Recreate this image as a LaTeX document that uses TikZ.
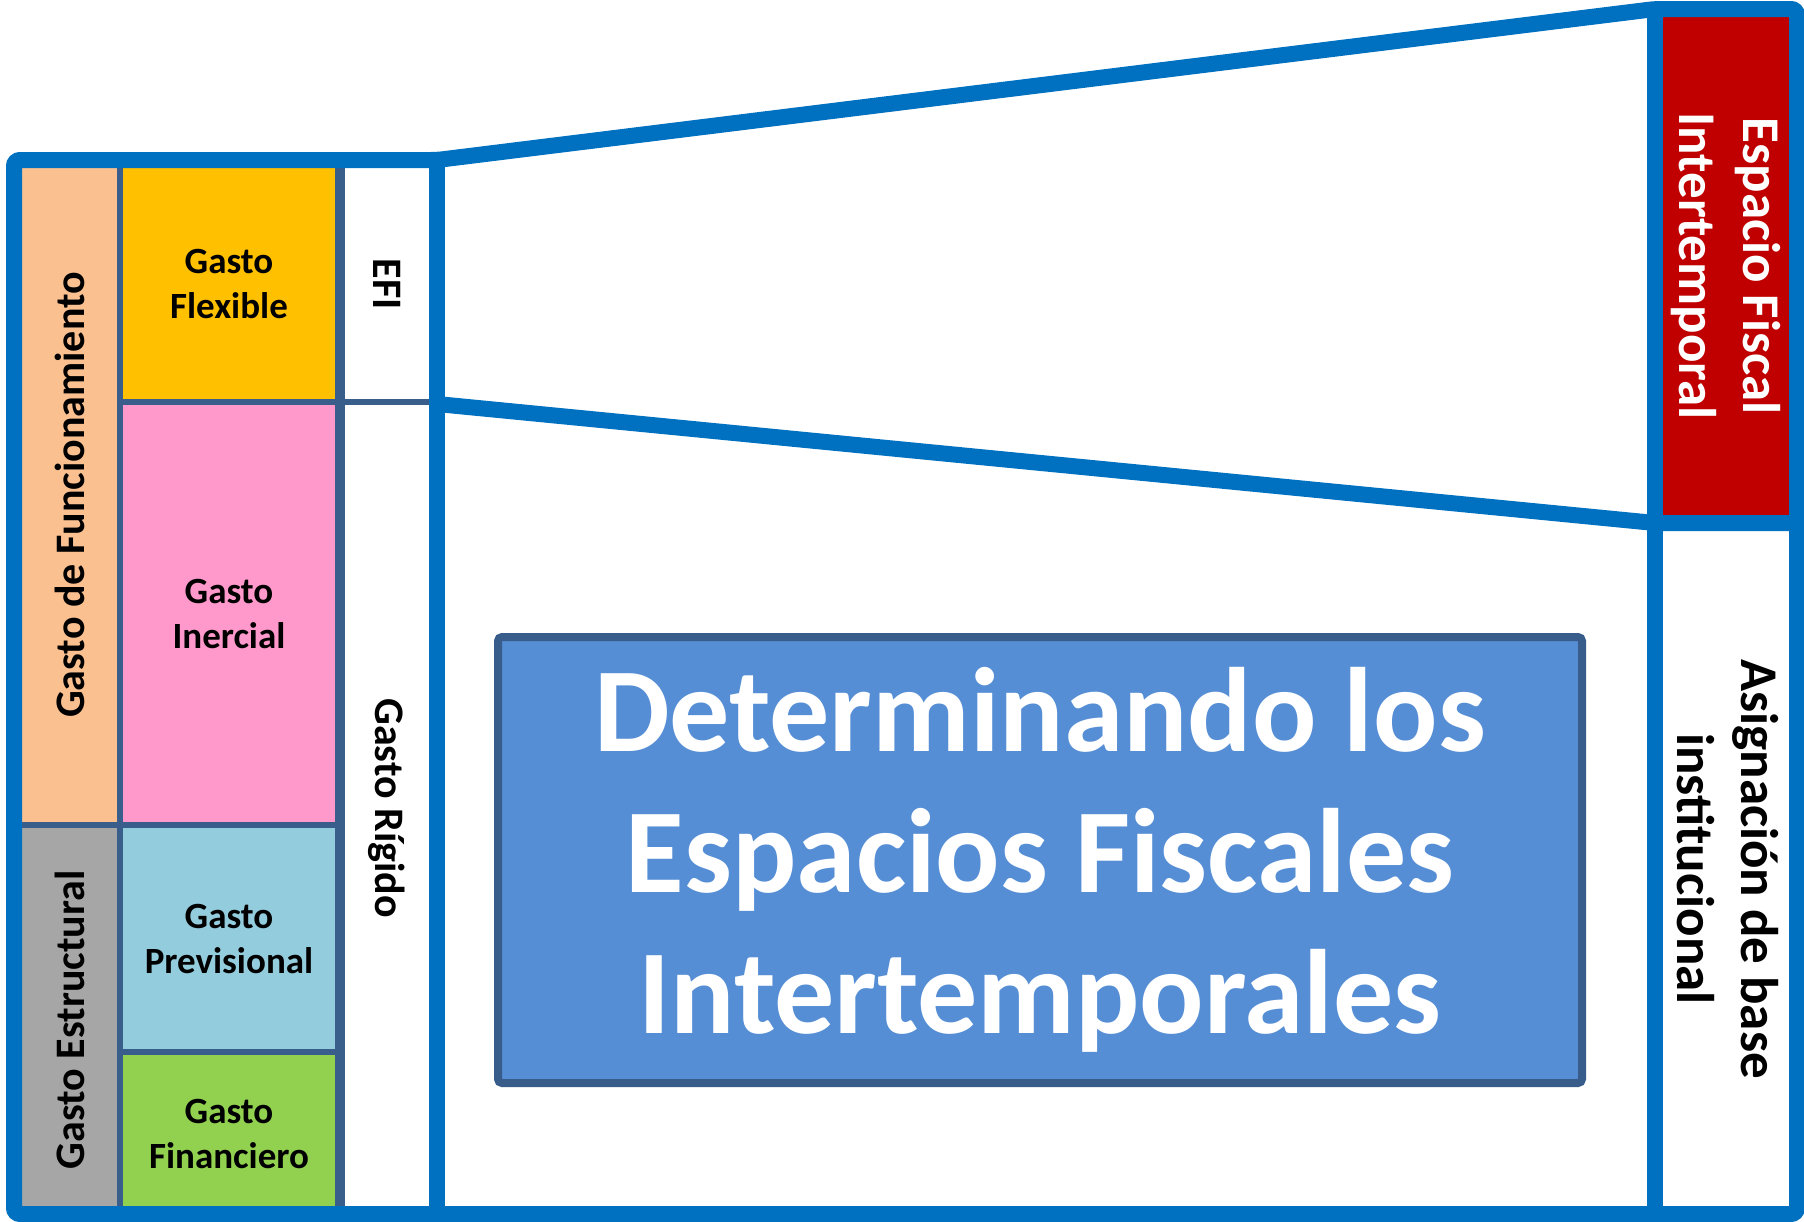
\documentclass[tikz,border=0pt]{standalone}
\usepackage{fontspec}
\setmainfont{Carlito}
\definecolor{frameblue}{RGB}{0,112,192}
\definecolor{divider}{RGB}{58,94,140}
\definecolor{peach}{RGB}{250,192,144}
\definecolor{gold}{RGB}{255,192,0}
\definecolor{pinkish}{RGB}{255,153,204}
\definecolor{lightblue}{RGB}{147,205,221}
\definecolor{leafgreen}{RGB}{146,208,80}
\definecolor{midgray}{RGB}{166,166,166}
\definecolor{darkred}{RGB}{192,0,0}
\definecolor{titlefill}{RGB}{85,142,213}
\definecolor{titleline}{RGB}{56,93,138}
\tikzset{
  frame/.style={draw=frameblue, line width=8pt, line join=miter},
  divline/.style={draw=divider, line width=2.6pt},
  sidelabel/.style={inner sep=0pt, font=\fontsize{21}{25}\selectfont\bfseries},
  innerlabel/.style={inner sep=0pt, align=center, font=\fontsize{18.5}{22.5}\selectfont\bfseries},
  biglabel/.style={inner sep=0pt, align=center, font=\fontsize{26.5}{32}\selectfont\bfseries},
  titlebox/.style={draw=titleline, fill=titlefill, line width=4pt, rounded corners=2pt,
    minimum width=542pt, minimum height=223pt, inner sep=0pt, align=center,
    text=white, font=\fontsize{60}{70.5}\selectfont\bfseries}
}
\begin{document}
\begin{tikzpicture}[x=0.5pt,y=-0.5pt]
\useasboundingbox (0,0) rectangle (1804,1221);
% coloured cells
\fill[peach] (22,168) rectangle (120,825);
\fill[midgray] (22,825) rectangle (120,1211);
\fill[gold] (120,168) rectangle (340,402);
\fill[pinkish] (120,402) rectangle (340,825);
\fill[lightblue] (120,825) rectangle (340,1052);
\fill[leafgreen] (120,1052) rectangle (340,1211);
\fill[darkred] (1655,9) rectangle (1797,523);
% dividers
\draw[divline, line width=3pt] (120,168) -- (120,1211);
\draw[divline, line width=5pt] (340,168) -- (340,1211);
\draw[divline] (120,402) -- (437,402);
\draw[divline] (22,825) -- (340,825);
\draw[divline] (120,1052) -- (340,1052);
% blue frame
\draw[frame, rounded corners=3pt] (14,160) -- (437,160) -- (1655,9) -- (1797,9) -- (1797,1214) -- (14,1214) -- cycle;
\draw[frame] (437,160) -- (437,1214);
\draw[frame] (1655,9) -- (1655,1214);
\draw[frame] (437,404) -- (1655,523) -- (1797,523);
% labels
\node[sidelabel, rotate=90] (funcionamiento) at (70,495) {Gasto de Funcionamiento};
\node[sidelabel, rotate=90] (estructural) at (70,1020) {Gasto Estructural};
\node[innerlabel] (flexible) at (229,284) {Gasto\\Flexible};
\node[innerlabel] (inercial) at (229,614) {Gasto\\Inercial};
\node[innerlabel] (previsional) at (229,939) {Gasto\\Previsional};
\node[innerlabel] (financiero) at (229,1134) {Gasto\\Financiero};
\node[sidelabel, rotate=-90] (efi) at (387,284) {EFI};
\node[sidelabel, rotate=-90] (rigido) at (387,808) {Gasto Rígido};
\node[biglabel, rotate=-90, text=white] (espacio) at (1726,266) {Espacio Fiscal\\Intertemporal};
\node[biglabel, rotate=-90] (asignacion) at (1728,869) {Asignación de base\\institucional};
\node[titlebox] (title) at (1040,860) {Determinando los\\Espacios Fiscales\\Intertemporales};
\end{tikzpicture}
\end{document}
